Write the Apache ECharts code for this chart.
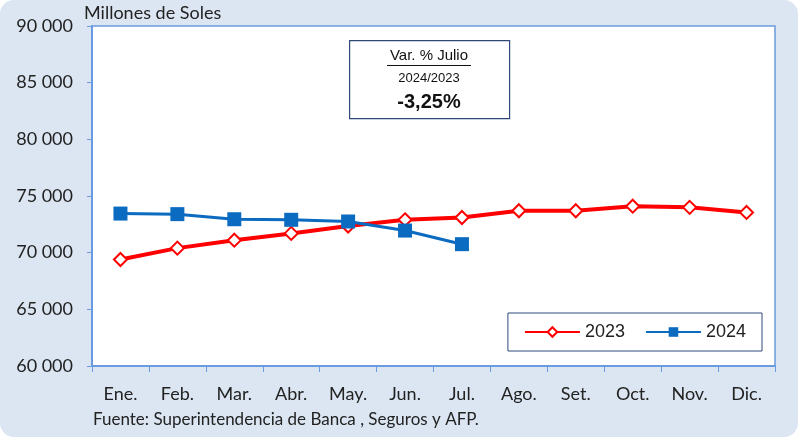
<!DOCTYPE html>
<html><head><meta charset="utf-8">
<script src="https://cdn.jsdelivr.net/npm/echarts@6/dist/echarts.min.js"></script>
<style>html,body{margin:0;padding:0;background:#fff}#c{width:798px;height:437px}</style>
</head><body><div id="c"></div>
<script>
const categories = ['Ene.','Feb.','Mar.','Abr.','May.','Jun.','Jul.','Ago.','Set.','Oct.','Nov.','Dic.'];
const values2023 = [69400, 70400, 71100, 71700, 72350, 72900, 73100, 73700, 73700, 74100, 74000, 73550];
const values2024 = [73450, 73400, 72950, 72900, 72750, 71950, 70750];
const yMin = 60000, yMax = 90000, yStep = 5000;
const unitLabel = 'Millones de Soles';
const sourceLabel = 'Fuente: Superintendencia de Banca , Seguros y AFP.';
const noteTitle = 'Var. % Julio';
const noteSub = '2024/2023';
const noteValue = '-3,25%';

const chart = echarts.init(document.getElementById('c'));
const fnt = 'Lato, "Noto Sans", sans-serif';
const blue = '#6a9be0';
chart.setOption({
  backgroundColor: 'transparent',
  animation: false,
  graphic: [
    {type:'rect', left:0, top:0, shape:{width:798, height:437, r:14}, style:{fill:'#dce6f2'}, z:-10},
    {type:'text', left:84, top:4, style:{text:unitLabel, font:'18px '+fnt, fill:'#222'}},
    {type:'text', left:93, top:411, style:{text:sourceLabel, font:'17px '+fnt, fill:'#222'}},
    {type:'rect', left:349, top:40, shape:{width:160, height:78}, style:{fill:'#fff', stroke:'#2f4a7a', lineWidth:1.2}, z:10},
    {type:'text', x:429, y:56, style:{text:noteTitle, font:'15px "Liberation Sans", Arial, sans-serif', fill:'#111', align:'center', verticalAlign:'middle'}, z:11},
    {type:'line', shape:{x1:387, y1:65.5, x2:471, y2:65.5}, style:{stroke:'#111', lineWidth:1}, z:11},
    {type:'text', x:429, y:78, style:{text:noteSub, font:'13px "Liberation Sans", Arial, sans-serif', fill:'#111', align:'center', verticalAlign:'middle'}, z:11},
    {type:'text', x:429, y:102, style:{text:noteValue, font:'bold 20px "Liberation Sans", Arial, sans-serif', fill:'#111', align:'center', verticalAlign:'middle'}, z:11}
  ],
  grid: {left:92, right:23, top:26, bottom:71, show:true, backgroundColor:'#fff', borderColor:blue, borderWidth:1.5},
  legend: {
    right:36, top:313, width:258, height:30,
    padding:[10,16,10,16],
    itemGap:20, itemWidth:55, itemHeight:12,
    borderColor:'#2f4a7a', borderWidth:1, backgroundColor:'#fff',
    textStyle:{fontFamily:'"Liberation Sans", Arial, sans-serif', fontSize:18, color:'#222'},
    data:['2023','2024']
  },
  xAxis: {
    type:'category', data:categories, boundaryGap:true,
    axisLine:{lineStyle:{color:blue, width:2}},
    axisTick:{show:true, length:6, lineStyle:{color:blue}},
    axisLabel:{fontFamily:fnt, fontSize:18, color:'#222', margin:19},
    splitLine:{show:false}
  },
  yAxis: {
    type:'value', min:yMin, max:yMax, interval:yStep,
    axisLine:{show:true, lineStyle:{color:blue, width:2}},
    axisTick:{show:true, length:5, lineStyle:{color:blue}},
    axisLabel:{fontFamily:fnt, fontSize:18, color:'#222', margin:19,
      formatter: v => String(v).replace(/\B(?=(\d{3})+(?!\d))/g, ' ')},
    splitLine:{show:false}
  },
  series: [
    {name:'2023', type:'line', data:values2023, symbol:'diamond', symbolSize:13,
     lineStyle:{color:'#ff0000', width:4}, itemStyle:{color:'#fff', borderColor:'#ff0000', borderWidth:2},
     z:3},
    {name:'2024', type:'line', data:values2024, symbol:'rect', symbolSize:14,
     lineStyle:{color:'#0b6bc0', width:3}, itemStyle:{color:'#0b6bc0', borderColor:'#0b6bc0', borderWidth:0},
     z:4}
  ]
});
</script></body></html>
